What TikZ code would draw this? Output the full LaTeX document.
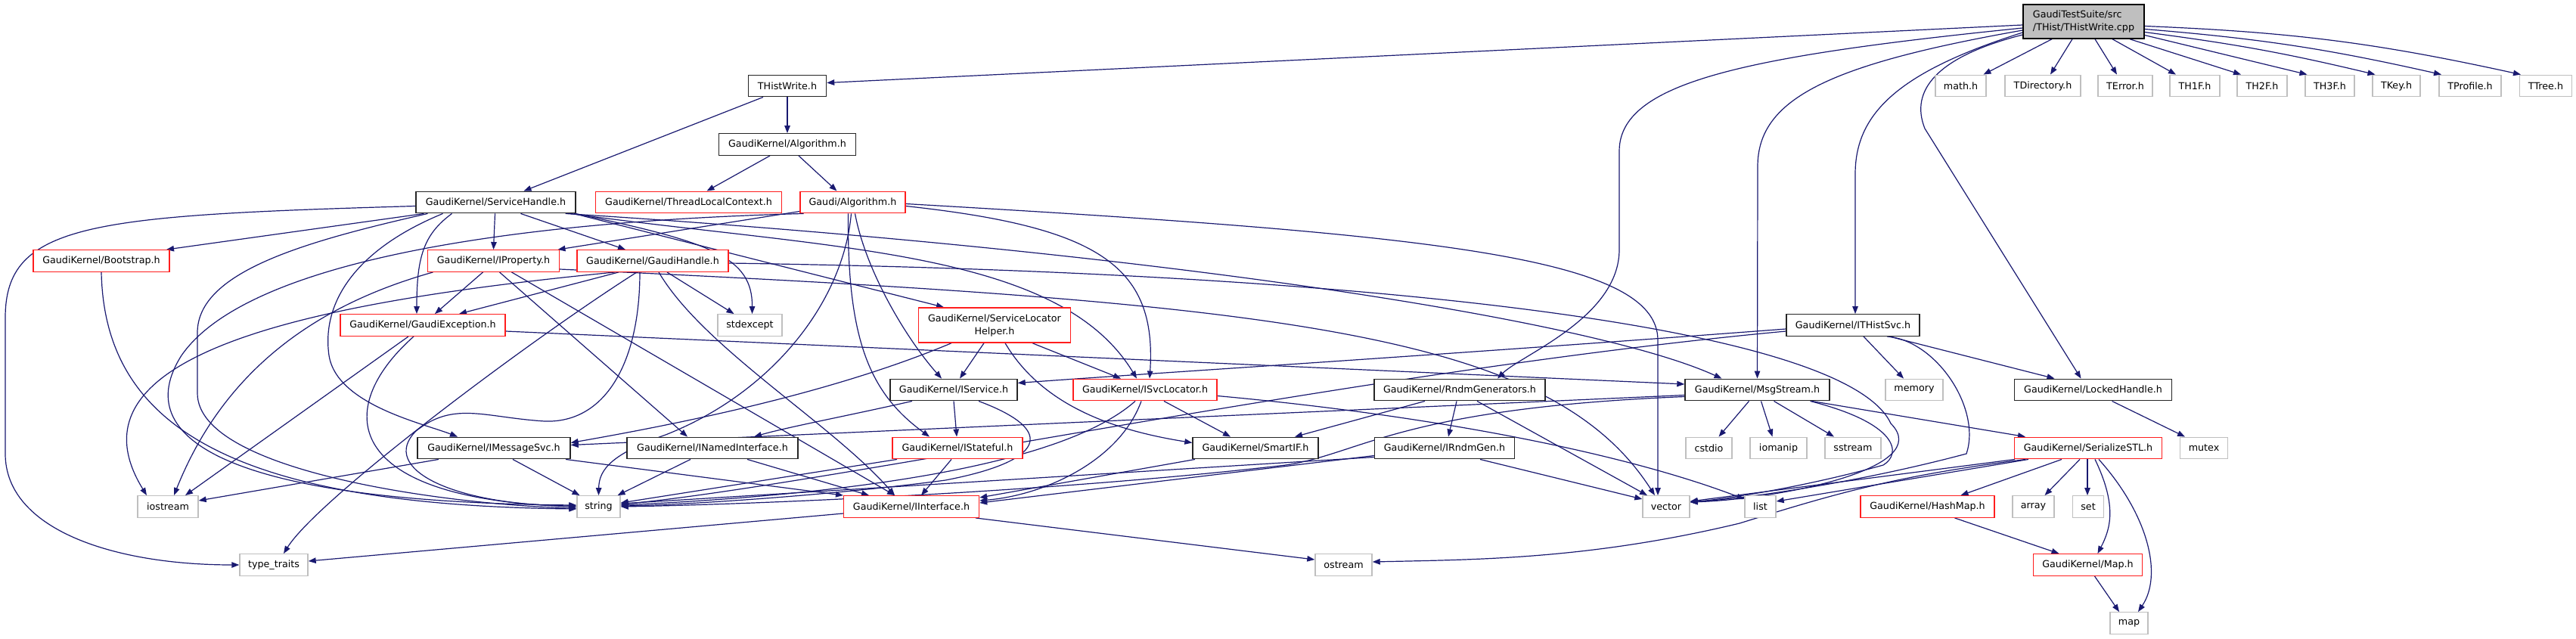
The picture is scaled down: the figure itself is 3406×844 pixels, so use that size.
\documentclass[tikz,border=0pt]{standalone}
\usepackage{fontspec}
\setmainfont{DejaVu Sans}
\usetikzlibrary{arrows.meta}
\definecolor{edgec}{RGB}{25,25,112}
\definecolor{grayb}{RGB}{191,191,191}
\definecolor{redb}{RGB}{255,30,30}
\pgfdeclarelayer{bg}
\pgfsetlayers{bg,main}
\begin{document}
\begin{tikzpicture}[x=1pt,y=-1pt,
  box/.style={draw, line width=1.4pt, fill=white, inner sep=0pt, minimum height=28.5pt,
    font=\fontsize{12.7pt}{17pt}\selectfont, anchor=center},
  blk/.style={box, draw=black!85},
  redbox/.style={box, draw=redb},
  grybox/.style={box, draw=grayb},
  e/.style={draw=edgec, line width=1.2pt, -{Triangle[length=10pt,width=7.5pt]}},
]
\useasboundingbox (0,0) rectangle (3406,844);
% row 0
\node[box, draw=black, fill=grayb, minimum width=160pt, minimum height=45pt, align=left] (root) at (2755,28.5) {GaudiTestSuite/src\\/THist/THistWrite.cpp};
% row 1
\node[blk, minimum width=103pt] (thw) at (1041,113.5) {THistWrite.h};
\node[grybox, minimum width=67pt] (math) at (2592.5,113.5) {math.h};
\node[grybox, minimum width=100pt] (tdir) at (2701,113.5) {TDirectory.h};
\node[grybox, minimum width=72pt] (terr) at (2810,113.5) {TError.h};
\node[grybox, minimum width=66pt] (th1f) at (2902,113.5) {TH1F.h};
\node[grybox, minimum width=66pt] (th2f) at (2991,113.5) {TH2F.h};
\node[grybox, minimum width=65pt] (th3f) at (3080.5,113.5) {TH3F.h};
\node[grybox, minimum width=63pt] (tkey) at (3168.5,113.5) {TKey.h};
\node[grybox, minimum width=82pt] (tprof) at (3266,113.5) {TProfile.h};
\node[grybox, minimum width=69pt] (ttree) at (3366,113.5) {TTree.h};
% row 2
\node[blk, minimum width=181pt] (gkalg) at (1041,191) {GaudiKernel/Algorithm.h};
% row 3
\node[blk, minimum width=211pt] (sh) at (655.5,267.5) {GaudiKernel/ServiceHandle.h};
\node[redbox, minimum width=246pt] (tlc) at (910.5,267.5) {GaudiKernel/ThreadLocalContext.h};
\node[redbox, minimum width=139pt] (galg) at (1127.5,267.5) {Gaudi/Algorithm.h};
% row 4
\node[redbox, minimum width=180pt] (boot) at (134,345) {GaudiKernel/Bootstrap.h};
\node[redbox, minimum width=174pt] (iprop) at (652.5,345) {GaudiKernel/IProperty.h};
\node[redbox, minimum width=200pt] (ghandle) at (863,345) {GaudiKernel/GaudiHandle.h};
% row 5
\node[redbox, minimum width=218pt] (gexc) at (559,430) {GaudiKernel/GaudiException.h};
\node[grybox, minimum width=85pt] (stdexc) at (991.5,430) {stdexcept};
\node[redbox, minimum width=201pt, minimum height=46pt, align=center] (slh) at (1315,430) {GaudiKernel/ServiceLocator\\Helper.h};
\node[blk, minimum width=176pt] (ithist) at (2450,430) {GaudiKernel/ITHistSvc.h};
% row 6
\node[blk, minimum width=168pt] (iserv) at (1261,515.5) {GaudiKernel/IService.h};
\node[redbox, minimum width=190pt] (isvc) at (1514,515.5) {GaudiKernel/ISvcLocator.h};
\node[blk, minimum width=226pt] (rndm) at (1930,515.5) {GaudiKernel/RndmGenerators.h};
\node[blk, minimum width=191pt] (msg) at (2323.5,515.5) {GaudiKernel/MsgStream.h};
\node[grybox, minimum width=76pt] (memory) at (2531,515.5) {memory};
\node[blk, minimum width=208pt] (locked) at (2767.5,515.5) {GaudiKernel/LockedHandle.h};
% row 7
\node[blk, minimum width=202pt] (imsg) at (653,592.5) {GaudiKernel/IMessageSvc.h};
\node[blk, minimum width=226pt] (inamed) at (942,592.5) {GaudiKernel/INamedInterface.h};
\node[redbox, minimum width=172pt] (istate) at (1266,592.5) {GaudiKernel/IStateful.h};
\node[blk, minimum width=166pt] (smartif) at (1660,592.5) {GaudiKernel/SmartIF.h};
\node[blk, minimum width=185pt] (irndm) at (1910,592.5) {GaudiKernel/IRndmGen.h};
\node[grybox, minimum width=61pt] (cstdio) at (2259.5,592.5) {cstdio};
\node[grybox, minimum width=75pt] (iomanip) at (2351.5,592.5) {iomanip};
\node[grybox, minimum width=74pt] (sstream) at (2450,592.5) {sstream};
\node[redbox, minimum width=195pt] (serial) at (2761,592.5) {GaudiKernel/SerializeSTL.h};
\node[grybox, minimum width=63pt] (mutex) at (2914,592.5) {mutex};
% row 8
\node[grybox, minimum width=80pt] (iostream) at (222,670) {iostream};
\node[grybox, minimum width=57pt] (string) at (791.5,670) {string};
\node[redbox, minimum width=179pt] (iinter) at (1205,670) {GaudiKernel/IInterface.h};
\node[grybox, minimum width=62pt] (vector) at (2203,670) {vector};
\node[grybox, minimum width=41pt] (list) at (2327.5,670) {list};
\node[redbox, minimum width=177pt] (hashmap) at (2548.5,670) {GaudiKernel/HashMap.h};
\node[grybox, minimum width=55pt] (array) at (2688.5,670) {array};
\node[grybox, minimum width=41pt] (set) at (2761,670) {set};
% row 9
\node[grybox, minimum width=90pt] (typetr) at (362,747) {type\_traits};
\node[grybox, minimum width=75pt] (ostream) at (1776.5,747) {ostream};
\node[redbox, minimum width=144pt] (maph) at (2760.5,747) {GaudiKernel/Map.h};
% row 10
\node[grybox, minimum width=50pt] (map) at (2815,824) {map};

\begin{pgfonlayer}{bg}
% root
\draw[e] ([yshift=-4.5pt]root.west) -- ([yshift=4pt]thw.east);
\draw[e] ([yshift=-8.5pt]root.west) .. controls (2300,75) and (2141,110) .. (2141,200) -- (2141,330) .. controls (2141,420) and (2010,470) .. ([xshift=50pt]rndm.north);
\draw[e] ([yshift=-11.5pt]root.west) .. controls (2420,85) and (2324,130) .. (2324,220) -- (msg.north);
\draw[e] ([yshift=-14.5pt]root.west) .. controls (2510,95) and (2453,150) .. (2453,230) -- ([xshift=3pt]ithist.north);
\draw[e] ([yshift=-17.5pt]root.west) .. controls (2560,75) and (2525,120) .. (2545,170) -- ([xshift=-16pt]locked.north);
\draw[e] ([xshift=-42pt]root.south) -- ([xshift=30pt]math.north);
\draw[e] ([xshift=-15pt]root.south) -- ([xshift=10pt]tdir.north);
\draw[e] ([xshift=15pt]root.south) -- ([xshift=-11pt]terr.north);
\draw[e] ([xshift=38pt]root.south) -- ([xshift=-25pt]th1f.north);
\draw[e] ([xshift=61pt]root.south) -- ([xshift=-28pt]th2f.north);
\draw[e] ([yshift=-18pt]root.east) -- ([xshift=-30pt]th3f.north);
\draw[e] ([yshift=-14pt]root.east) to[bend left=3] ([xshift=-28pt]tkey.north);
\draw[e] ([yshift=-10pt]root.east) to[bend left=4] ([xshift=-38pt]tprof.north);
\draw[e] ([yshift=-6pt]root.east) to[bend left=5] ([xshift=-33pt]ttree.north);
% THistWrite.h, Algorithm.h
\draw[e] (thw.south) -- (gkalg.north);
\draw[e] ([xshift=-32pt]thw.south) -- ([xshift=37pt]sh.north);
\draw[e] ([xshift=-23pt]gkalg.south) -- ([xshift=24pt]tlc.north);
\draw[e] ([xshift=15pt]gkalg.south) -- ([xshift=-21pt]galg.north);
% ServiceHandle
\draw[e] ([yshift=-5pt]sh.west) .. controls (120,285) and (7,295) .. (7,420) -- (7,600) .. controls (7,700) and (150,747) .. (typetr.west);
\draw[e] ([xshift=-95pt]sh.south) -- ([xshift=86pt]boot.north);
\draw[e] ([xshift=-90pt]sh.south) .. controls (400,320) and (261,360) .. (261,440) -- (261,520) .. controls (261,625) and (600,668) .. ([yshift=-2pt]string.west);
\draw[e] ([xshift=-70pt]sh.south) .. controls (470,330) and (425,400) .. (435,470) .. controls (445,535) and (560,560) .. ([xshift=-48pt]imsg.north);
\draw[e] ([xshift=-58pt]sh.south) .. controls (560,310) and (551,340) .. ([xshift=-8pt]gexc.north);
\draw[e] ([xshift=-1pt]sh.south) -- (iprop.north);
\draw[e] ([xshift=33pt]sh.south) -- ([xshift=-36pt]ghandle.north);
\draw[e] ([xshift=-14pt]sh.south east) .. controls (1500,330) and (2100,420) .. ([xshift=-47pt]msg.north);
\draw[e] ([xshift=-8pt]sh.south east) .. controls (1100,330) and (1400,330) .. ([xshift=-11pt]isvc.north);
\draw[e] ([xshift=-3pt]sh.south east) -- ([xshift=-67pt]slh.north);
\draw[e] ([xshift=-1pt]sh.south east) .. controls (940,320) and (995,340) .. ([xshift=3pt]stdexc.north);
% GaudiException
\draw[e] ([yshift=-8pt]gexc.east) -- ([yshift=7.5pt]msg.west);
\draw[e] ([xshift=-19pt]gexc.south) -- ([xshift=23pt]iostream.north);
\draw[e] ([xshift=-12pt]gexc.south) .. controls (440,540) and (450,660) .. (string.west);
% Bootstrap
\draw[e] (boot.south) .. controls (138,560) and (300,668) .. ([yshift=-3pt]string.west);
% IProperty
\draw[e] ([xshift=-14pt]iprop.south) -- ([xshift=16pt]gexc.north);
\draw[e] ([xshift=-80pt]iprop.south) .. controls (430,400) and (300,480) .. ([xshift=8pt]iostream.north);
\draw[e] ([xshift=8pt]iprop.south) -- ([xshift=-33pt]inamed.north);
\draw[e] ([xshift=24pt]iprop.south) -- ([xshift=-22pt]iinter.north);
\draw[e] ([yshift=-11pt]iprop.east) .. controls (1700,400) and (2050,440) .. ([xshift=-15pt]vector.north);
% GaudiHandle
\draw[e] ([xshift=-45pt]ghandle.south) -- ([xshift=48pt]gexc.north);
\draw[e] ([xshift=-50pt]ghandle.south) .. controls (400,400) and (80,470) .. ([xshift=-28pt]iostream.north);
\draw[e] ([xshift=-21pt]ghandle.south) .. controls (700,450) and (420,660) .. ([xshift=13pt]typetr.north);
\draw[e] ([xshift=-17pt]ghandle.south) .. controls (846,480) and (800,560) .. (720,557) .. controls (640,552) and (600,530) .. (550,570) .. controls (500,620) and (600,668) .. ([yshift=1pt]string.west);
\draw[e] ([xshift=8pt]ghandle.south) .. controls (930,460) and (1100,560) .. ([xshift=-22pt]iinter.north);
\draw[e] ([xshift=19pt]ghandle.south) -- ([xshift=-21pt]stdexc.north);
\draw[e] ([yshift=-3pt]ghandle.east) .. controls (1800,360) and (2440,430) .. (2500,560) .. controls (2560,620) and (2350,660) .. ([yshift=6pt]vector.east);
% Gaudi/Algorithm
\draw[e] ([yshift=-12pt]galg.west) -- ([xshift=85pt]iprop.north);
\draw[e] ([xshift=-65pt]galg.south) .. controls (700,292) and (330,340) .. (240,470) .. controls (170,580) and (300,664) .. ([yshift=2pt]string.west);
\draw[e] ([xshift=-2pt]galg.south) .. controls (1115,400) and (1020,520) .. (880,575) .. controls (810,600) and (792,620) .. (string.north);
\draw[e] ([xshift=-6pt]galg.south) .. controls (1120,450) and (1150,520) .. ([xshift=-37pt]istate.north);
\draw[e] ([xshift=3pt]galg.south) .. controls (1145,360) and (1200,450) .. ([xshift=-16pt]iserv.north);
\draw[e] ([yshift=-5pt]galg.east) .. controls (1450,300) and (1530,350) .. ([xshift=6pt]isvc.north);
\draw[e] ([yshift=-2pt]galg.east) .. controls (1900,310) and (2192,340) .. (2192,450) -- ([xshift=-11pt]vector.north);
% ServiceLocatorHelper
\draw[e] ([xshift=-14pt]slh.south) -- ([xshift=8pt]iserv.north);
\draw[e] ([xshift=50pt]slh.south) -- ([xshift=-32pt]isvc.north);
\draw[e] ([xshift=14pt]slh.south) .. controls (1380,540) and (1480,570) .. ([yshift=7pt]smartif.west);
\draw[e] ([xshift=-57pt]slh.south) .. controls (1100,520) and (900,560) .. ([yshift=7pt]imsg.east);
% ITHistSvc
\draw[e] ([yshift=-5pt]ithist.west) .. controls (1900,470) and (1500,495) .. ([yshift=9pt]iserv.east);
\draw[e] ([yshift=-8pt]ithist.west) .. controls (1800,490) and (1100,640) .. ([yshift=3pt]string.east);
\draw[e] ([xshift=14pt]ithist.south) -- ([xshift=-14pt]memory.north);
\draw[e] ([xshift=48pt]ithist.south) -- ([xshift=-51pt]locked.north);
\draw[e] ([xshift=45pt]ithist.south) .. controls (2560,450) and (2620,540) .. (2600,600) .. controls (2450,640) and (2300,660) .. ([yshift=6pt]vector.east);
% LockedHandle
\draw[e] ([xshift=25pt]locked.south) -- ([xshift=-25pt]mutex.north);
% RndmGenerators
\draw[e] ([xshift=-46pt]rndm.south) -- ([xshift=52pt]smartif.north);
\draw[e] ([xshift=-4pt]rndm.south) -- ([xshift=5pt]irndm.north);
\draw[e] ([xshift=23pt]rndm.south) -- ([xshift=-25pt]vector.north);
% IRndmGen
\draw[e] ([xshift=47pt]irndm.south) -- ([yshift=10pt]vector.west);
\draw[e] ([yshift=-10pt]irndm.west) -- ([yshift=5pt]iinter.east);
\draw[e] ([yshift=-12pt]irndm.west) -- ([yshift=4pt]string.east);
% SmartIF
\draw[e] ([xshift=-80pt]smartif.south) -- ([yshift=12pt]iinter.east);
% ISvcLocator
\draw[e] ([xshift=25pt]isvc.south) -- ([xshift=-33pt]smartif.north);
\draw[e] ([xshift=-5pt]isvc.south) .. controls (1480,610) and (1380,655) .. ([yshift=8pt]iinter.east);
\draw[e] ([xshift=-13pt]isvc.south) .. controls (1400,620) and (1100,655) .. ([yshift=2pt]string.east);
\draw[e] ([yshift=-8pt]isvc.east) .. controls (1900,550) and (2150,600) .. ([yshift=10pt]list.west);
% IService
\draw[e] (iserv.south) -- ([xshift=-1pt]istate.north);
\draw[e] ([xshift=-55pt]iserv.south) .. controls (1120,550) and (1040,565) .. ([xshift=55pt]inamed.north);
\draw[e] ([xshift=33pt]iserv.south) .. controls (1400,570) and (1380,610) .. (1250,635) .. controls (1100,655) and (900,668) .. ([yshift=1pt]string.east);
% IStateful
\draw[e] ([xshift=-8pt]istate.south) -- ([xshift=13pt]iinter.north);
\draw[e] ([xshift=-80pt]istate.south) -- ([yshift=5pt]string.east);
% IMessageSvc
\draw[e] ([xshift=-73pt]imsg.south) -- ([yshift=8pt]iostream.east);
\draw[e] ([xshift=25pt]imsg.south) -- ([xshift=-25pt]string.north);
\draw[e] ([xshift=95pt]imsg.south) -- ([xshift=-90pt]iinter.north);
% INamedInterface
\draw[e] ([xshift=-29pt]inamed.south) -- ([xshift=25pt]string.north);
\draw[e] ([xshift=46pt]inamed.south) -- ([xshift=-56pt]iinter.north);
% IInterface
\draw[e] ([yshift=-9pt]iinter.west) -- ([yshift=5pt]typetr.east);
\draw[e] ([xshift=85pt]iinter.south) -- ([yshift=7pt]ostream.west);
% MsgStream
\draw[e] ([yshift=-7pt]msg.west) -- ([yshift=4pt]imsg.east);
\draw[e] ([yshift=-9pt]msg.west) .. controls (1850,540) and (1800,600) .. (1700,615) .. controls (1400,650) and (1000,667) .. (string.east);
\draw[e] ([xshift=-11pt]msg.south) -- ([xshift=13pt]cstdio.north);
\draw[e] ([xshift=5pt]msg.south) -- ([xshift=-8pt]iomanip.north);
\draw[e] ([xshift=22pt]msg.south) -- ([xshift=-25pt]sstream.north);
\draw[e] ([xshift=72pt]msg.south) -- ([xshift=-83pt]serial.north);
\draw[e] ([xshift=70pt]msg.south) .. controls (2510,560) and (2515,600) .. (2490,615) .. controls (2400,640) and (2300,658) .. ([yshift=6pt]vector.east);
% SerializeSTL
\draw[e] ([xshift=-35pt]serial.south) -- ([xshift=44pt]hashmap.north);
\draw[e] ([xshift=-11pt]serial.south) -- ([xshift=15pt]array.north);
\draw[e] ([xshift=-1pt]serial.south) -- ([xshift=-1pt]set.north);
\draw[e] ([xshift=9pt]serial.south) .. controls (2800,670) and (2790,700) .. ([xshift=13pt]maph.north);
\draw[e] ([xshift=14pt]serial.south) .. controls (2840,680) and (2860,760) .. ([xshift=12pt]map.north);
\draw[e] ([xshift=-79pt]serial.south) -- ([yshift=7pt]list.east);
\draw[e] ([xshift=-97pt]serial.south) -- ([yshift=7pt]vector.east);
\draw[e] ([xshift=-83pt]serial.south) .. controls (2500,630) and (2420,655) .. (2300,692) .. controls (2100,740) and (1950,740) .. ([yshift=4pt]ostream.east);
% HashMap, Map
\draw[e] ([xshift=36pt]hashmap.south) -- ([xshift=-38pt]maph.north);
\draw[e] ([xshift=9pt]maph.south) -- ([xshift=-13pt]map.north);
\end{pgfonlayer}
\end{tikzpicture}
\end{document}
